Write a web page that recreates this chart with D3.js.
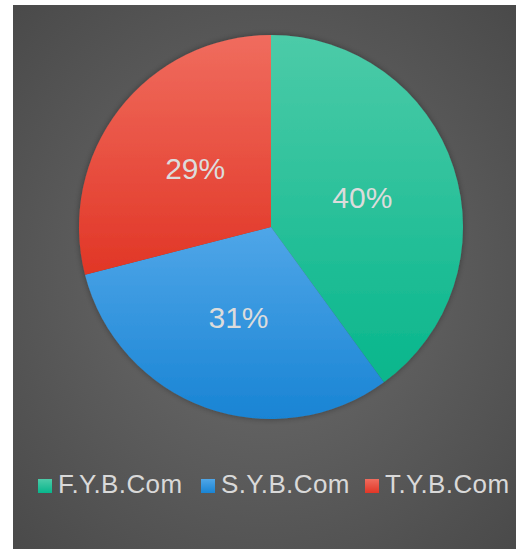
<!DOCTYPE html>
<html>
<head>
<meta charset="utf-8">
<script src="https://cdn.jsdelivr.net/npm/d3@7"></script>
<style>
  body { margin: 0; background: #fff; }
</style>
</head>
<body>
<div id="chart"></div>
<script>
// data
const categories = ["F.Y.B.Com", "S.Y.B.Com", "T.Y.B.Com"];
const shares = [40, 31, 29];
const colorsTop = ["#4ccba8", "#4fa6e8", "#f06c5e"];
const colorsBottom = ["#08b68c", "#1984d4", "#e13626"];

const W = 516, H = 549;
const svg = d3.select("#chart").append("svg")
  .attr("width", W)
  .attr("height", H);

const defs = svg.append("defs");

// background radial gradient
const bg = defs.append("radialGradient")
  .attr("id", "bg")
  .attr("cx", "50%").attr("cy", "50%").attr("r", "70%");
bg.append("stop").attr("offset", "0%").attr("stop-color", "#6e6e6e");
bg.append("stop").attr("offset", "100%").attr("stop-color", "#4a4a4a");

categories.forEach((c, i) => {
  const g = defs.append("linearGradient")
    .attr("id", "grad" + i)
    .attr("x1", 0).attr("y1", 0).attr("x2", 0).attr("y2", 1);
  g.append("stop").attr("offset", "0%").attr("stop-color", colorsTop[i]);
  g.append("stop").attr("offset", "100%").attr("stop-color", colorsBottom[i]);
});

const shadow = defs.append("filter").attr("id", "shadow")
  .attr("x", "-10%").attr("y", "-10%").attr("width", "120%").attr("height", "120%");
shadow.append("feDropShadow")
  .attr("dx", 0).attr("dy", 0).attr("stdDeviation", 3)
  .attr("flood-color", "#000").attr("flood-opacity", 0.35);

svg.append("rect")
  .attr("x", 13).attr("y", 5)
  .attr("width", W - 13).attr("height", H - 5)
  .attr("fill", "url(#bg)");

const cx = 271, cy = 227, r = 192;

const pie = d3.pie().sort(null).value(d => d);
const arcs = pie(shares);
const arc = d3.arc().innerRadius(0).outerRadius(r);
const labelArc = d3.arc().innerRadius(r * 0.5).outerRadius(r * 0.5);

const g = svg.append("g").attr("transform", `translate(${cx},${cy})`);

g.append("g").attr("filter", "url(#shadow)")
  .selectAll("path")
  .data(arcs)
  .enter()
  .append("path")
  .attr("d", arc)
  .attr("fill", (d, i) => `url(#grad${i})`);

g.selectAll(".label")
  .data(arcs)
  .enter()
  .append("text")
  .attr("class", "label")
  .attr("transform", d => `translate(${labelArc.centroid(d)})`)
  .attr("text-anchor", "middle")
  .attr("dy", "0.36em")
  .style("font-family", "'Liberation Sans', Arial, sans-serif")
  .style("font-size", "30px")
  .style("fill", "#dcdcdc")
  .text(d => d.data + "%");

// legend
const legendX = [38, 201, 365];
const legend = svg.append("g");
categories.forEach((c, i) => {
  legend.append("rect")
    .attr("x", legendX[i]).attr("y", 479)
    .attr("width", 14).attr("height", 14)
    .attr("fill", `url(#grad${i})`);
  legend.append("text")
    .attr("x", legendX[i] + 20).attr("y", 493)
    .style("font-family", "'Liberation Sans', Arial, sans-serif")
    .style("font-size", "26px")
    .style("letter-spacing", "0.4px")
    .style("fill", "#d9d9d9")
    .text(c);
});
</script>
</body>
</html>
